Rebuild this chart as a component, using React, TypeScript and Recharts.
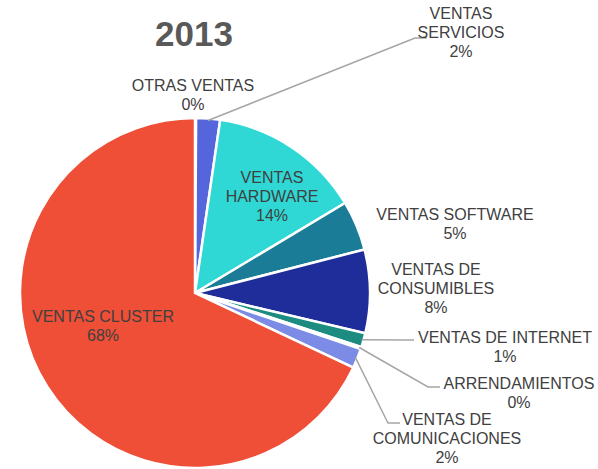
import React from 'react';
import { PieChart, Pie, Cell } from 'recharts';

const categories = [
  'OTRAS VENTAS',
  'VENTAS SERVICIOS',
  'VENTAS HARDWARE',
  'VENTAS SOFTWARE',
  'VENTAS DE CONSUMIBLES',
  'VENTAS DE INTERNET',
  'ARRENDAMIENTOS',
  'VENTAS DE COMUNICACIONES',
  'VENTAS CLUSTER',
];
const values = [0.1, 2.2, 14.1, 4.6, 7.7, 1.3, 0.2, 1.8, 68.0];
const colors = ['#F4F4F4', '#5566DD', '#2FD8D4', '#1A7C96', '#1F2D9A', '#1C8C80', '#3ED3E3', '#7B8BE6', '#EF4E37'];

// label lines, text block centre, leader elbow and end (layout only)
const labelLayout: Record<string, { lines: string[]; x: number; y: number; elbow?: [number, number]; end?: [number, number] }> = {
  'OTRAS VENTAS': { lines: ['OTRAS VENTAS'], x: 193, y: 85 },
  'VENTAS SERVICIOS': { lines: ['VENTAS', 'SERVICIOS'], x: 461, y: 13, elbow: [415, 38], end: [427, 38] },
  'VENTAS HARDWARE': { lines: ['VENTAS', 'HARDWARE'], x: 272, y: 177 },
  'VENTAS SOFTWARE': { lines: ['VENTAS SOFTWARE'], x: 455, y: 214 },
  'VENTAS DE CONSUMIBLES': { lines: ['VENTAS DE', 'CONSUMIBLES'], x: 436, y: 269 },
  'VENTAS DE INTERNET': { lines: ['VENTAS DE INTERNET'], x: 505, y: 337, elbow: [405, 340], end: [414, 340] },
  'ARRENDAMIENTOS': { lines: ['ARRENDAMIENTOS'], x: 519, y: 383, elbow: [428, 387], end: [440, 387] },
  'VENTAS DE COMUNICACIONES': { lines: ['VENTAS DE', 'COMUNICACIONES'], x: 447, y: 419, elbow: [388, 423], end: [400, 423] },
  'VENTAS CLUSTER': { lines: ['VENTAS CLUSTER'], x: 103, y: 316 },
};

const data = categories.map((name, i) => ({ name, value: values[i] }));
const total = values.reduce((a, b) => a + b, 0);

const RAD = Math.PI / 180;
const LINE_H = 19;

const renderLabel = (props: any) => {
  const { cx, cy, midAngle, outerRadius, name, value } = props;
  const cfg = labelLayout[name];
  if (!cfg) return null;
  const pct = `${Math.round((value / total) * 100)}%`;
  const rows = [...cfg.lines, pct];
  let leader = null;
  if (cfg.elbow && cfg.end) {
    const sx = cx + (outerRadius - 2) * Math.cos(-midAngle * RAD);
    const sy = cy + (outerRadius - 2) * Math.sin(-midAngle * RAD);
    leader = (
      <polyline
        points={`${sx},${sy} ${cfg.elbow[0]},${cfg.elbow[1]} ${cfg.end[0]},${cfg.end[1]}`}
        fill="none"
        stroke="#A6A6A6"
        strokeWidth={1.5}
      />
    );
  }
  return (
    <g key={`lbl-${name}`}>
      {leader}
      {rows.map((t, i) => (
        <text
          key={i}
          x={cfg.x}
          y={cfg.y + i * LINE_H}
          textAnchor="middle"
          dominantBaseline="central"
          fill="#404040"
          fontSize={16}
          fontFamily="'Liberation Sans', Arial, sans-serif"
        >
          {t}
        </text>
      ))}
    </g>
  );
};

const App: React.FC = () => {
  return (
    <div style={{ position: 'absolute', left: 0, top: 0, width: 598, height: 469, background: '#fff' }}>
      <PieChart width={598} height={469} margin={{ top: 0, right: 0, bottom: 0, left: 0 }}>
        <text
          x={194}
          y={33}
          textAnchor="middle"
          dominantBaseline="central"
          fill="#595959"
          fontSize={35}
          fontWeight="bold"
          fontFamily="'Liberation Sans', Arial, sans-serif"
        >
          2013
        </text>
        <Pie
          data={data}
          dataKey="value"
          nameKey="name"
          cx={195}
          cy={293}
          outerRadius={175}
          startAngle={90}
          endAngle={-270}
          stroke="#ffffff"
          strokeWidth={2.5}
          label={renderLabel}
          labelLine={false}
          isAnimationActive={false}
        >
          {data.map((entry, index) => (
            <Cell key={`cell-${index}`} fill={colors[index]} />
          ))}
        </Pie>
      </PieChart>
    </div>
  );
};

export default App;
